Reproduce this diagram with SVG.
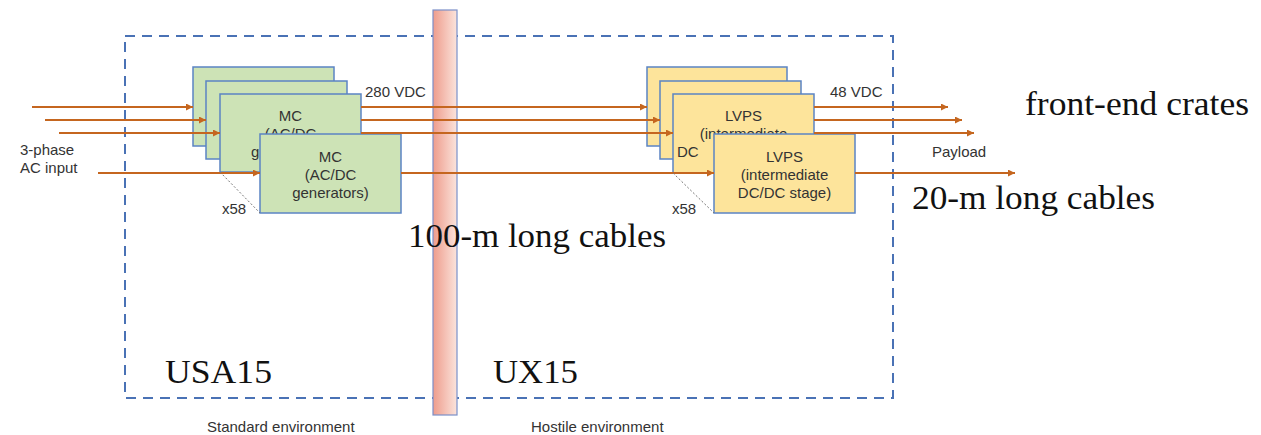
<svg xmlns="http://www.w3.org/2000/svg" width="1261" height="435" viewBox="0 0 1261 435">
<style>
.bx{stroke:#5b84c4;stroke-width:1.5}
.mc{fill:#cde3b6}
.lv{fill:#fde49b}
.t{font-family:"Liberation Sans",Arial,sans-serif;font-size:15px;fill:#333}
.tc{text-anchor:middle}
.big{font-family:"Liberation Serif","Times New Roman",serif;font-size:34px;fill:#111}
.w{stroke:#c5661f;stroke-width:2;fill:none}
.dot{stroke:#777;stroke-width:1;stroke-dasharray:2 2;fill:none}
</style>
<defs>
<marker id="ah" viewBox="0 0 10 10" refX="10" refY="5" markerWidth="9" markerHeight="7" markerUnits="userSpaceOnUse" orient="auto">
<path d="M0,0 L10,5 L0,10 z" fill="#c5661f"/>
</marker>
<linearGradient id="bar" x1="0" y1="0" x2="1" y2="0">
<stop offset="0" stop-color="#ee9c8c"/>
<stop offset="1" stop-color="#fbe4dc"/>
</linearGradient>
</defs>
<rect width="1261" height="435" fill="#fff"/>
<rect id="area" x="125" y="36" width="768" height="362" fill="none" stroke="#4a72b5" stroke-width="2" stroke-dasharray="10 7"/>
<rect id="wall" x="433" y="10" width="24" height="405" fill="url(#bar)" stroke="#7b8fc8" stroke-width="1.2"/>

<g id="mc1"><rect class="bx mc" x="193" y="67" width="141" height="79"/></g>
<g id="mc2"><rect class="bx mc" x="206" y="81" width="141" height="78"/></g>
<g id="mc3"><rect class="bx mc" x="220" y="94" width="141" height="78"/>
<text class="t tc" x="290.5" y="121">MC</text><text class="t tc" x="290.5" y="139">(AC/DC</text><text class="t" x="251" y="157">g</text></g>
<g id="mc4"><rect class="bx mc" x="260" y="134" width="141" height="79"/>
<text class="t tc" x="330.5" y="162">MC</text><text class="t tc" x="330.5" y="180">(AC/DC</text><text class="t tc" x="330.5" y="198">generators)</text></g>

<g id="lv1"><rect class="bx lv" x="647" y="67" width="140" height="79"/></g>
<g id="lv2"><rect class="bx lv" x="660" y="81" width="141" height="78"/></g>
<g id="lv3"><rect class="bx lv" x="673" y="94" width="141" height="79"/>
<text class="t tc" x="743.5" y="121">LVPS</text><text class="t tc" x="743.5" y="139">(intermediate</text><text class="t" x="677" y="157">DC</text></g>
<g id="lv4"><rect class="bx lv" x="714" y="134" width="141" height="79"/>
<text class="t tc" x="784.5" y="162">LVPS</text><text class="t tc" x="784.5" y="180">(intermediate</text><text class="t tc" x="784.5" y="198">DC/DC stage)</text></g>

<g id="connectors">
<line class="w" x1="32" y1="107" x2="193" y2="107" marker-end="url(#ah)"/>
<line class="w" x1="45" y1="120" x2="206" y2="120" marker-end="url(#ah)"/>
<line class="w" x1="59" y1="133" x2="220" y2="133" marker-end="url(#ah)"/>
<line class="w" x1="98" y1="173" x2="260" y2="173" marker-end="url(#ah)"/>
<line class="w" x1="361" y1="107" x2="647" y2="107" marker-end="url(#ah)"/>
<line class="w" x1="361" y1="120" x2="660" y2="120" marker-end="url(#ah)"/>
<line class="w" x1="361" y1="133" x2="673" y2="133" marker-end="url(#ah)"/>
<line class="w" x1="401" y1="173" x2="714" y2="173" marker-end="url(#ah)"/>
<line class="w" x1="814" y1="107" x2="948" y2="107" marker-end="url(#ah)"/>
<line class="w" x1="814" y1="120" x2="962" y2="120" marker-end="url(#ah)"/>
<line class="w" x1="814" y1="133" x2="974" y2="133" marker-end="url(#ah)"/>
<line class="w" x1="855" y1="173" x2="1015" y2="173" marker-end="url(#ah)"/>
<line class="dot" x1="220" y1="172" x2="260" y2="213"/>
<line class="dot" x1="673" y1="173" x2="714" y2="213"/>
</g>

<text class="t" x="20" y="155">3-phase</text>
<text class="t" x="20" y="173">AC input</text>
<text class="t" x="365" y="97">280 VDC</text>
<text class="t" x="830" y="97">48 VDC</text>
<text class="t" x="222" y="214">x58</text>
<text class="t" x="672" y="214">x58</text>
<text class="t" x="932" y="157">Payload</text>
<text class="t" x="207" y="432">Standard environment</text>
<text class="t" x="531" y="432">Hostile environment</text>
<text class="big" x="1025" y="115" textLength="224" lengthAdjust="spacingAndGlyphs">front-end crates</text>
<text class="big" x="912" y="209" textLength="243" lengthAdjust="spacingAndGlyphs">20-m long cables</text>
<text class="big" x="408" y="247" textLength="258" lengthAdjust="spacingAndGlyphs">100-m long cables</text>
<text class="big" x="165" y="383" textLength="107" lengthAdjust="spacingAndGlyphs">USA15</text>
<text class="big" x="493" y="383" textLength="85" lengthAdjust="spacingAndGlyphs">UX15</text>
</svg>
